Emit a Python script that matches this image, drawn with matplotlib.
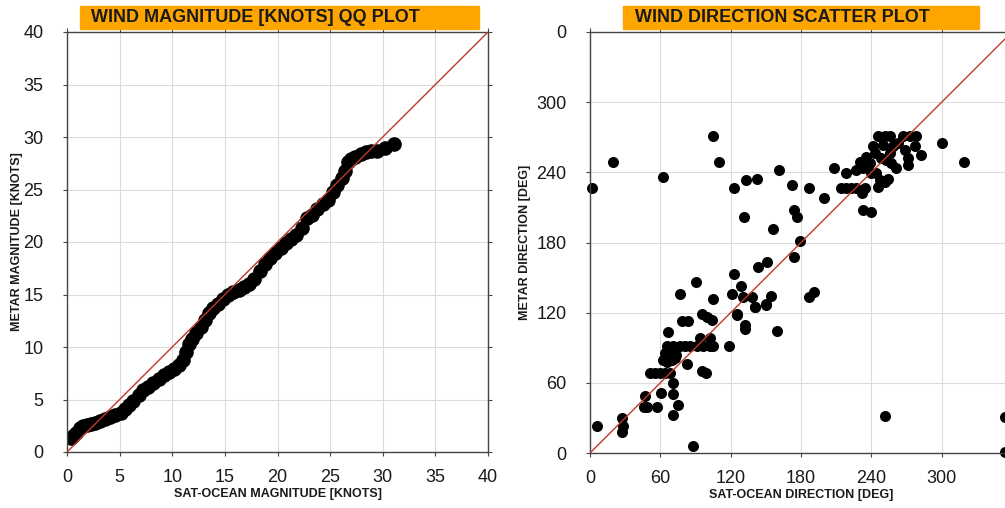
import numpy as np
import matplotlib.pyplot as plt
from matplotlib.patches import Rectangle

plt.rcParams['font.family'] = ['Liberation Sans', 'DejaVu Sans']

# QQ plot of wind magnitude (knots)
sat_mag = [0.4, 0.6, 0.9, 1.2, 1.5, 1.9, 2.3, 2.7, 3.1, 3.6, 4.1, 4.6, 5.1, 5.5, 5.9,
           6.3, 6.8, 7.2, 7.7, 8.2, 8.7, 9.2, 9.7, 10.2, 10.6, 11.0, 11.3, 11.6, 11.9, 12.3,
           12.7, 13.1, 13.5, 13.9, 14.3, 14.8, 15.3, 15.8, 16.3, 16.8, 17.3, 17.8, 18.3, 18.8, 19.3,
           19.8, 20.3, 20.8, 21.3, 21.8, 22.3, 22.8, 23.3, 23.8, 24.3, 24.8, 25.3, 25.7, 26.1, 26.4,
           26.7, 27.0, 27.4, 27.9, 28.4, 28.9, 29.5, 30.2, 31.1]
metar_mag = [1.3, 1.5, 1.8, 2.3, 2.5, 2.6, 2.7, 2.8, 3.0, 3.1, 3.3, 3.5, 3.7, 4.1, 4.5,
             4.9, 5.4, 5.9, 6.2, 6.6, 7.0, 7.3, 7.6, 7.9, 8.3, 8.8, 9.5, 10.3, 10.8, 11.3,
             11.9, 12.6, 13.2, 13.7, 14.1, 14.6, 15.0, 15.2, 15.4, 15.7, 16.0, 16.5, 17.2, 17.9, 18.5,
             19.0, 19.4, 19.9, 20.3, 20.7, 21.3, 22.3, 22.6, 23.1, 23.6, 24.0, 24.8, 25.4, 26.1, 26.8,
             27.6, 27.9, 28.1, 28.4, 28.6, 28.7, 28.7, 29.0, 29.3]

# Wind direction scatter (deg)
sat_dir = [1.4, 19.9, 62.5, 105.1, 110.2, 123.0, 133.5, 142.6, 161.1, 171.9, 186.4, 199.7, 208.0, 218.2,
           131.3, 174.1, 177.0, 156.3, 179.0, 173.9, 150.6, 143.4, 123.0, 90.3, 76.7, 128.7, 121.0,
           130.6, 138.6, 105.1, 154.5, 186.9, 190.9, 140.6, 150.0, 125.8,
           245.7, 251.4, 255.7, 267.0, 272.7, 278.4, 300.3, 319.0, 277.0, 282.7, 271.3, 271.3, 261.4,
           268.5, 262.8, 258.5, 241.3, 250.0, 235.8, 238.6, 230.1, 227.3, 232.9, 240.0, 244.3, 247.2,
           254.2, 245.7, 251.4, 252.8, 248.5, 257.0, 255.7, 242.9,
           214.5, 218.8, 223.0, 227.3, 234.4, 232.4, 232.9, 240.0,
           5.7, 27.0, 28.4, 27.0, 46.9, 46.0, 48.9, 56.8, 60.2, 70.4, 70.4, 75.3, 71.0, 88.0,
           251.4, 354.0, 354.0,
           51.1, 55.4, 59.7, 63.9, 68.2, 95.2, 98.9, 82.4, 65.3, 62.5, 69.6, 72.4, 63.9, 68.2, 73.1,
           65.3, 71.0, 76.7, 81.0, 85.2, 90.9, 96.6, 102.3, 105.1, 93.8, 102.3, 66.7, 78.1, 83.8,
           95.2, 99.4, 104.5, 118.7, 125.8, 132.1, 132.1, 159.1, 140.6, 150.0]
metar_dir = [226.2, 248.5, 235.6, 271.2, 248.5, 226.2, 233.3, 234.2, 241.9, 228.8, 226.2, 217.9, 243.3, 239.6,
             202.0, 207.4, 201.7, 191.2, 181.2, 167.8, 163.5, 158.7, 153.0, 146.2, 135.9, 143.0, 135.9,
             133.1, 133.1, 131.4, 134.2, 133.1, 137.9, 124.5, 127.4, 118.8,
             271.2, 271.2, 271.2, 271.2, 271.2, 271.2, 264.7, 248.5, 262.4, 254.7, 251.9, 246.2, 243.3,
             259.0, 264.7, 262.4, 262.4, 263.2, 253.3, 247.6, 249.0, 241.9, 243.3, 239.1, 239.1, 233.3,
             233.9, 227.6, 231.9, 250.4, 251.9, 247.6, 256.2, 256.2,
             226.2, 226.2, 226.2, 226.2, 226.2, 222.5, 207.7, 206.2,
             23.4, 30.2, 23.4, 18.2, 48.7, 39.0, 39.0, 39.6, 51.5, 59.6, 50.2, 40.8, 32.5, 6.2,
             31.4, 30.5, 1.1,
             68.6, 68.6, 68.6, 68.6, 68.6, 70.1, 68.6, 76.1, 78.0, 79.5, 79.5, 80.9, 85.2, 86.6, 83.8,
             91.7, 91.7, 91.7, 91.7, 91.7, 91.7, 91.7, 91.7, 91.7, 98.6, 98.6, 103.7, 112.8, 112.8,
             118.8, 116.5, 113.7, 91.5, 118.0, 109.4, 105.7, 104.3, 125.0, 126.5]

mag_ticks = [0, 5, 10, 15, 20, 25, 30, 35, 40]
dir_ticks = [0, 60, 120, 180, 240, 300, 360]
dir_labels = ['0', '60', '120', '180', '240', '300', '0']

W, H = 1005, 508
fig = plt.figure(figsize=(W / 100, H / 100), dpi=100)

txt = '#1a1a1a'


def style(ax):
    ax.grid(True, color='#dcdcdc', lw=0.8)
    ax.set_axisbelow(True)
    for s in ax.spines.values():
        s.set_color('#444444')
        s.set_linewidth(1.0)
    ax.tick_params(direction='out', length=3, width=0.8, color='#444444',
                   labelsize=13, labelcolor=txt, top=True, right=True)
    ax.tick_params(axis='x', pad=9)
    ax.tick_params(axis='y', pad=14)


# left panel
ax1 = fig.add_axes([67 / W, (H - 452) / H, 421 / W, 420 / H])
ax1.plot([0, 40], [0, 40], color='#c0392b', lw=1.0, zorder=3)
ax1.plot(sat_mag, metar_mag, color='black', lw=3, marker='o', ms=9.5, zorder=2)
ax1.set_xlim(0, 40)
ax1.set_ylim(0, 40)
ax1.set_xticks(mag_ticks)
ax1.set_yticks(mag_ticks)
style(ax1)
ax1.set_xlabel('SAT-OCEAN MAGNITUDE [KNOTS]', fontsize=9, fontweight='bold', color=txt, labelpad=2)
ax1.set_ylabel('METAR MAGNITUDE [KNOTS]', fontsize=9, fontweight='bold', color=txt, labelpad=0)

# right panel
ax2 = fig.add_axes([590 / W, (H - 453) / H, 422 / W, 421 / H])
ax2.plot([0, 360], [0, 360], color='#c0392b', lw=1.0, zorder=3)
ax2.scatter(sat_dir, metar_dir, s=48, color='black', zorder=2, clip_on=False)
ax2.set_xlim(0, 360)
ax2.set_ylim(0, 360)
ax2.set_xticks(dir_ticks)
ax2.set_xticklabels(dir_labels)
ax2.set_yticks(dir_ticks)
ax2.set_yticklabels(dir_labels)
style(ax2)
ax2.set_xlabel('SAT-OCEAN DIRECTION [DEG]', fontsize=9, fontweight='bold', color=txt, labelpad=2)
ax2.set_ylabel('METAR DIRECTION [DEG]', fontsize=9, fontweight='bold', color=txt, labelpad=4)

# orange title boxes
for (x0, x1, tx, label) in [(80, 479, 91, 'WIND MAGNITUDE [KNOTS] QQ PLOT'),
                            (623, 979, 635, 'WIND DIRECTION SCATTER PLOT')]:
    fig.patches.append(Rectangle((x0 / W, 1 - 29 / H), (x1 - x0) / W, 23 / H,
                                 transform=fig.transFigure, color='#ffa500', zorder=0))
    fig.text(tx / W, 1 - 18 / H, label, fontsize=13, fontweight='bold', color=txt,
             ha='left', va='center')

fig.savefig('out.png', dpi=100)
